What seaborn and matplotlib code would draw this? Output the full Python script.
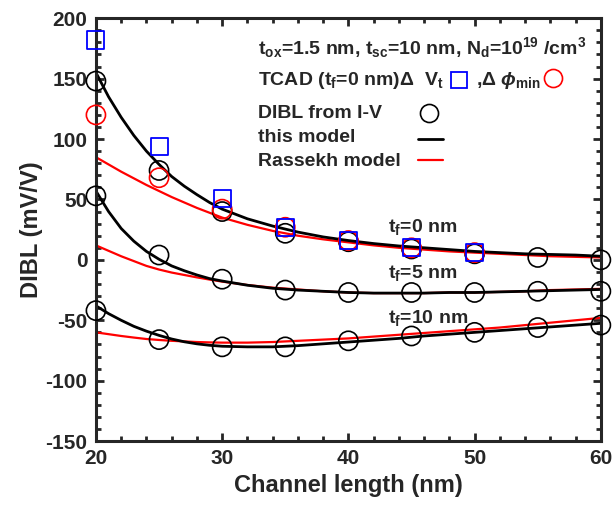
import numpy as np
import pandas as pd
import matplotlib
matplotlib.use("Agg")
import matplotlib.pyplot as plt
from matplotlib.ticker import MultipleLocator
import seaborn as sns

# channel length grids
L_pts = [20, 25, 30, 35, 40, 45, 50, 55, 60]
L_tcad = [20, 25, 30, 35, 40, 45, 50]
L_line = [20, 21, 22, 23, 24, 25, 26, 27, 28, 29, 30,
          32, 34, 36, 38, 40, 42, 44, 46, 48, 50, 52, 54, 56, 58, 60]

# DIBL from I-V (circles)
iv_tf0 = [148, 74, 40, 22, 15, 9, 5, 2, 0]
iv_tf5 = [53, 4, -16, -25, -27, -27, -27, -26, -26]
iv_tf10 = [-42, -66, -72, -72, -67, -63, -60, -56, -54]

# TCAD, tf = 0 nm
tcad_dvt = [182, 94, 51, 27, 16, 10, 6]
tcad_dphi = [120, 68, 42, 27, 16, 10, 6]

# this model
model_tf0 = [155, 135, 118, 103, 90, 79, 69, 61, 54, 47.5, 42,
             34, 28, 23, 19, 16, 13.5, 11.5, 10, 8.5, 7, 6, 5, 4.5, 4, 3]
model_tf5 = [57, 40, 26, 15.5, 7, 0.5, -5, -9, -12.5, -15.5, -17.5,
             -21, -23.5, -25, -26, -27, -27.5, -27.5, -27.5, -27, -27, -26.5, -26, -25.5, -25, -24.5]
model_tf10 = [-38, -44.5, -50, -55, -59, -62.5, -65.5, -67.8, -69.5, -70.7, -71.5,
              -72, -72, -71, -69.5, -68, -66.5, -65, -63, -61.5, -60, -58.5, -57, -55.5, -54, -52.5]

# Rassekh model
ras_tf0 = [85, 79, 73, 67.5, 62, 57, 52, 47.5, 43, 39, 35,
           29, 24, 20, 17, 14.5, 12, 10, 8.5, 7, 6, 5, 4, 3, 2.5, 2]
ras_tf5 = [12, 7.5, 3, -1, -5, -8, -10.5, -12.5, -14.5, -16.3, -18,
           -20.8, -23, -24.5, -26, -27, -27.5, -27.5, -27.5, -27, -27, -26.5, -26, -25, -24.5, -24]
ras_tf10 = [-60, -61.5, -63, -64.3, -65.5, -66.3, -67, -67.5, -68, -68.3, -68.5,
            -68.5, -68, -67, -66, -65, -63.5, -62, -60.5, -59, -57.5, -56, -54, -52, -50, -48]

sns.set_theme(style="ticks")
plt.rcParams['font.family'] = ['Liberation Sans', 'DejaVu Sans']
plt.rcParams['font.weight'] = 'bold'
plt.rcParams['axes.unicode_minus'] = False
plt.rcParams['mathtext.fontset'] = 'custom'
plt.rcParams['mathtext.rm'] = 'Liberation Sans:bold'
plt.rcParams['mathtext.it'] = 'Liberation Sans:italic:bold'
plt.rcParams['mathtext.bf'] = 'Liberation Sans:bold'
plt.rcParams['mathtext.default'] = 'rm'

fig = plt.figure(figsize=(6.15, 5.07), dpi=100)
ax = fig.add_axes([0.156, 0.130, 0.821, 0.834])

for m, r in [(model_tf0, ras_tf0), (model_tf5, ras_tf5), (model_tf10, ras_tf10)]:
    sns.lineplot(x=L_line, y=r, color='red', lw=1.6, ax=ax)
    sns.lineplot(x=L_line, y=m, color='black', lw=2.0, ax=ax)

circ = dict(marker='o', s=190, facecolors='none', linewidths=1.2, clip_on=False, zorder=5)
for iv in [iv_tf0, iv_tf5, iv_tf10]:
    sns.scatterplot(x=L_pts, y=iv, edgecolor='black', ax=ax, **circ)
sns.scatterplot(x=L_tcad, y=tcad_dphi, edgecolor='red', ax=ax, **circ)
sns.scatterplot(x=L_tcad, y=tcad_dvt, marker='s', s=150, facecolors='none',
                edgecolor='blue', linewidths=1.3, clip_on=False, zorder=6, ax=ax)

ax.set_xlim(20, 60)
ax.set_ylim(-150, 200)
ax.xaxis.set_major_locator(MultipleLocator(10))
ax.xaxis.set_minor_locator(MultipleLocator(2))
ax.yaxis.set_major_locator(MultipleLocator(50))
ax.yaxis.set_minor_locator(MultipleLocator(10))
ax.tick_params(which='both', direction='in', top=True, right=True, color='0.15', width=2)
ax.tick_params(which='major', length=6, labelsize=15, labelcolor='0.15', pad=6)
ax.tick_params(which='minor', length=3.5)
for s in ax.spines.values():
    s.set_linewidth(2.2)
    s.set_color('0.15')
ax.set_xlabel('Channel length (nm)', fontsize=17, fontweight='bold', color='0.15', labelpad=4)
ax.set_ylabel('DIBL (mV/V)', fontsize=17, fontweight='bold', color='0.15', labelpad=2)

# curve labels
ax.text(43.1, 27, 't$_f$=0 nm', fontsize=14, fontweight='bold', va='center')
ax.text(43.1, -11, 't$_f$=5 nm', fontsize=14, fontweight='bold', va='center')
ax.text(43.1, -48, 't$_f$=10 nm', fontsize=14, fontweight='bold', va='center')

# hand-made legend
tr = ax.transAxes
kw = dict(transform=tr, fontsize=14, fontweight='bold', va='center')
ax.text(0.321, 0.931, 't$_{ox}$=1.5 nm, t$_{sc}$=10 nm, N$_d$=10$^{19}$ /cm$^3$', **kw)
ax.text(0.321, 0.853, 'TCAD (t$_f$=0 nm)Δ  V$_t$', **kw)
ax.plot([0.719], [0.853], marker='s', ms=11, mfc='none', mec='blue', mew=1.3, transform=tr)
ax.text(0.752, 0.853, ',Δ $\\mathit{\\phi}$$_{min}$', **kw)
ax.plot([0.905], [0.858], marker='o', ms=13, mfc='none', mec='red', mew=1.2, transform=tr)
ax.text(0.321, 0.775, 'DIBL from I-V', **kw)
ax.plot([0.659], [0.775], marker='o', ms=13, mfc='none', mec='black', mew=1.2, transform=tr)
ax.text(0.321, 0.719, 'this model', **kw)
ax.plot([0.638, 0.687], [0.714, 0.714], color='black', lw=2.0, transform=tr)
ax.text(0.321, 0.662, 'Rassekh model', **kw)
ax.plot([0.638, 0.687], [0.664, 0.664], color='red', lw=1.6, transform=tr)

fig.savefig('out.png', dpi=100)
